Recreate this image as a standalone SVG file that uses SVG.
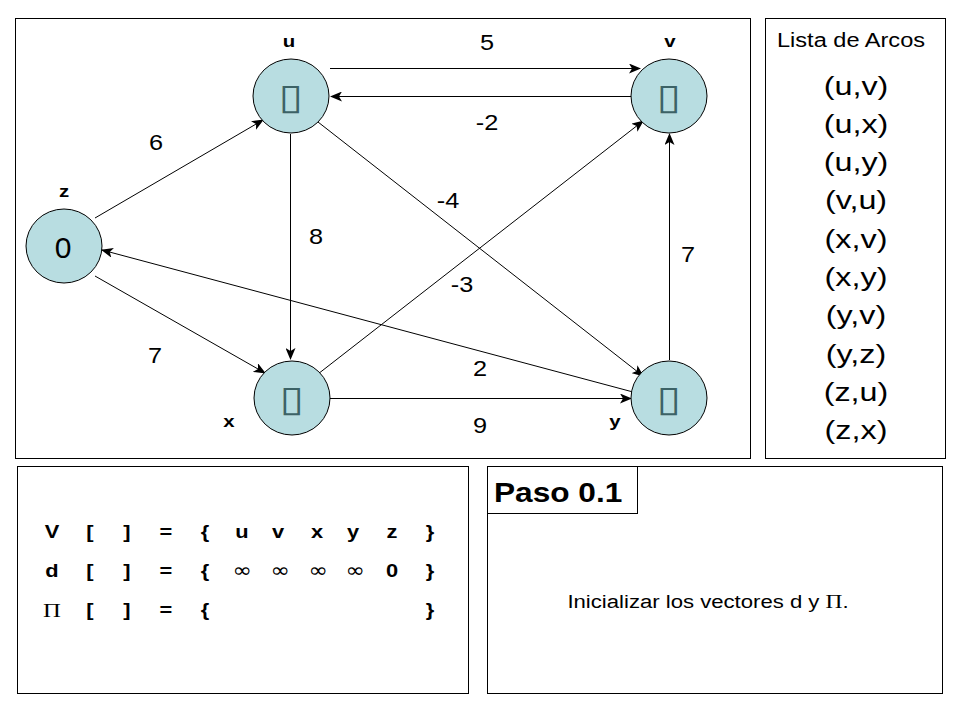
<svg xmlns="http://www.w3.org/2000/svg" width="960" height="720" viewBox="0 0 960 720">
<style>
.frame{fill:#fff;stroke:#000;stroke-width:1}
.node{fill:#b8dde1;stroke:#000;stroke-width:1}
.edge{stroke:#000;stroke-width:1;fill:none;marker-end:url(#ah)}
text{font-family:"Liberation Sans",Arial,sans-serif;fill:#000;text-anchor:middle}
.lbl{font-size:17px;font-weight:bold}
.w{font-size:22px}
.tofu{font-family:"DejaVu Sans",sans-serif;font-size:36px;fill:#3c6266}
.arc{font-size:26.5px}
.tb{font-size:19px;font-weight:bold}
.inf{font-family:"DejaVu Sans",sans-serif;font-size:20px}
.pi{font-family:"Liberation Serif","Times New Roman",serif}
</style>
<defs>
<marker id="ah" viewBox="0 0 12 10" refX="11" refY="5" markerWidth="12" markerHeight="10" markerUnits="userSpaceOnUse" orient="auto">
<path d="M0,0 L12,5 L0,10 L3,5 Z" fill="#000"/>
</marker>
</defs>
<rect width="960" height="720" fill="#fff"/>
<g id="frames">
<rect class="frame" x="15.5" y="18.5" width="735" height="440"/>
<rect class="frame" x="765.5" y="18.5" width="180" height="440"/>
<rect class="frame" x="17.5" y="466.5" width="451" height="227"/>
<rect class="frame" x="487.5" y="466.5" width="455" height="227"/>
<rect class="frame" x="487.5" y="466.5" width="150" height="47"/>
</g>
<g id="connectors">
<line class="edge" x1="330" y1="68.5" x2="640" y2="68.5"/>
<line class="edge" x1="632" y1="96.5" x2="331" y2="96.5"/>
<line class="edge" x1="95" y1="218" x2="263" y2="120"/>
<line class="edge" x1="95" y1="276" x2="265" y2="373"/>
<line class="edge" x1="290.5" y1="134" x2="290.5" y2="359"/>
<line class="edge" x1="318" y1="122" x2="643" y2="376"/>
<line class="edge" x1="318" y1="374" x2="643" y2="121"/>
<line class="edge" x1="633" y1="392" x2="102" y2="250"/>
<line class="edge" x1="330" y1="398.5" x2="631" y2="398.5"/>
<line class="edge" x1="669.5" y1="360" x2="669.5" y2="134"/>
</g>
<g id="node-u">
<ellipse class="node" cx="291" cy="96" rx="38" ry="37"/>
<text class="tofu" transform="translate(291,109) scale(1.25,1)">▯</text>
<text class="lbl" transform="translate(289,47) scale(1.2,1)">u</text>
</g>
<g id="node-v">
<ellipse class="node" cx="669" cy="96" rx="38" ry="37"/>
<text class="tofu" transform="translate(669,109) scale(1.25,1)">▯</text>
<text class="lbl" transform="translate(670,47) scale(1.2,1)">v</text>
</g>
<g id="node-z">
<ellipse class="node" cx="64" cy="246" rx="38" ry="37"/>
<text x="63" y="258" font-size="30" fill="#222">0</text>
<text class="lbl" transform="translate(64,197) scale(1.2,1)">z</text>
</g>
<g id="node-x">
<ellipse class="node" cx="292" cy="398" rx="38" ry="37"/>
<text class="tofu" transform="translate(292,411) scale(1.25,1)">▯</text>
<text class="lbl" transform="translate(229,427) scale(1.2,1)">x</text>
</g>
<g id="node-y">
<ellipse class="node" cx="669" cy="398" rx="38" ry="37"/>
<text class="tofu" transform="translate(669,411) scale(1.25,1)">▯</text>
<text class="lbl" transform="translate(615,427) scale(1.2,1)">y</text>
</g>
<g id="weights">
<text class="w" transform="translate(487,50) scale(1.15,1)">5</text>
<text class="w" transform="translate(487,130) scale(1.15,1)">-2</text>
<text class="w" transform="translate(156,150) scale(1.15,1)">6</text>
<text class="w" transform="translate(448,208) scale(1.15,1)">-4</text>
<text class="w" transform="translate(316,244) scale(1.15,1)">8</text>
<text class="w" transform="translate(688,262) scale(1.15,1)">7</text>
<text class="w" transform="translate(462,292) scale(1.15,1)">-3</text>
<text class="w" transform="translate(155,363) scale(1.15,1)">7</text>
<text class="w" transform="translate(480,376) scale(1.15,1)">2</text>
<text class="w" transform="translate(480,433) scale(1.15,1)">9</text>
</g>
<g id="arc-list">
<text font-size="19.5" transform="translate(851,47) scale(1.21,1)">Lista de Arcos</text>
<text class="arc" transform="translate(856,94.5) scale(1.22,1)">(u,v)</text>
<text class="arc" transform="translate(856,132.8) scale(1.22,1)">(u,x)</text>
<text class="arc" transform="translate(856,171.1) scale(1.22,1)">(u,y)</text>
<text class="arc" transform="translate(856,209.4) scale(1.22,1)">(v,u)</text>
<text class="arc" transform="translate(856,247.7) scale(1.22,1)">(x,v)</text>
<text class="arc" transform="translate(856,286) scale(1.22,1)">(x,y)</text>
<text class="arc" transform="translate(856,324.3) scale(1.22,1)">(y,v)</text>
<text class="arc" transform="translate(856,362.6) scale(1.22,1)">(y,z)</text>
<text class="arc" transform="translate(856,400.9) scale(1.22,1)">(z,u)</text>
<text class="arc" transform="translate(856,439.2) scale(1.22,1)">(z,x)</text>
</g>
<g id="vectors">
<text class="tb" transform="translate(52,538) scale(1.15,1)">V</text>
<text class="tb" transform="translate(90,538) scale(1.15,1)">[</text>
<text class="tb" transform="translate(127,538) scale(1.15,1)">]</text>
<text class="tb" transform="translate(166,538) scale(1.15,1)">=</text>
<text class="tb" transform="translate(205,538) scale(1.15,1)">{</text>
<text class="tb" transform="translate(242,538) scale(1.15,1)">u</text>
<text class="tb" transform="translate(278,538) scale(1.15,1)">v</text>
<text class="tb" transform="translate(317,538) scale(1.15,1)">x</text>
<text class="tb" transform="translate(353,538) scale(1.15,1)">y</text>
<text class="tb" transform="translate(392,538) scale(1.15,1)">z</text>
<text class="tb" transform="translate(430,538) scale(1.15,1)">}</text>
<text class="tb" transform="translate(52,577) scale(1.15,1)">d</text>
<text class="tb" transform="translate(90,577) scale(1.15,1)">[</text>
<text class="tb" transform="translate(127,577) scale(1.15,1)">]</text>
<text class="tb" transform="translate(166,577) scale(1.15,1)">=</text>
<text class="tb" transform="translate(205,577) scale(1.15,1)">{</text>
<text class="inf" transform="translate(242,577) scale(1.15,1)">∞</text>
<text class="inf" transform="translate(280,577) scale(1.15,1)">∞</text>
<text class="inf" transform="translate(318,577) scale(1.15,1)">∞</text>
<text class="inf" transform="translate(355,577) scale(1.15,1)">∞</text>
<text class="tb" transform="translate(392,577) scale(1.15,1)">0</text>
<text class="tb" transform="translate(430,577) scale(1.15,1)">}</text>
<text class="pi" font-size="19" transform="translate(52,617) scale(1.3,1)">Π</text>
<text class="tb" transform="translate(90,616) scale(1.15,1)">[</text>
<text class="tb" transform="translate(127,616) scale(1.15,1)">]</text>
<text class="tb" transform="translate(166,616) scale(1.15,1)">=</text>
<text class="tb" transform="translate(205,616) scale(1.15,1)">{</text>
<text class="tb" transform="translate(430,616) scale(1.15,1)">}</text>
</g>
<g id="step">
<text font-size="28" font-weight="bold" style="text-anchor:start" transform="translate(494,502) scale(1.13,1)">Paso 0.1</text>
<text font-size="18" transform="translate(708,608) scale(1.23,1)">Inicializar los vectores d y <tspan class="pi" font-size="19">Π</tspan>.</text>
</g>
</svg>
